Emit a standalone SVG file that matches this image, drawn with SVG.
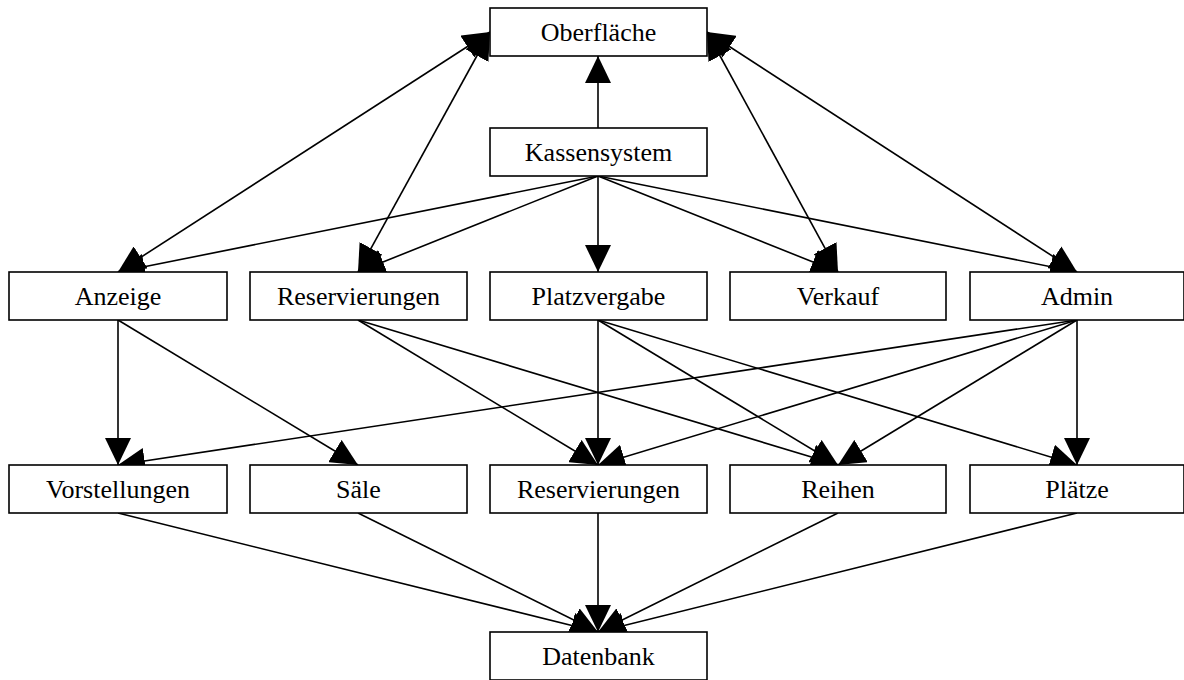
<svg xmlns="http://www.w3.org/2000/svg" width="1184" height="680" viewBox="0 0 1184 680">
<style>
.box{fill:#fff;stroke:#000;stroke-width:1.6}
.lbl{font-family:"Liberation Serif","Times New Roman",serif;font-size:26px;fill:#000;text-anchor:middle}
.e{stroke:#000;stroke-width:1.6;fill:none;marker-end:url(#ah)}
.b{marker-start:url(#ah)}
</style>
<defs>
<marker id="ah" markerUnits="userSpaceOnUse" viewBox="0 0 27 26" refX="27" refY="13" markerWidth="27" markerHeight="26" orient="auto-start-reverse">
<path d="M0,0 L27,13 L0,26 z" fill="#000"/>
</marker>
</defs>
<rect width="1184" height="680" fill="#fff"/>
<g id="connectors">
<line class="e" x1="598" y1="128" x2="598" y2="56"/>
<line class="e b" x1="490" y1="32" x2="118" y2="272"/>
<line class="e b" x1="490" y1="32" x2="358" y2="272"/>
<line class="e b" x1="707" y1="32" x2="838" y2="272"/>
<line class="e b" x1="707" y1="32" x2="1077" y2="272"/>
<line class="e" x1="598" y1="176" x2="118" y2="272"/>
<line class="e" x1="598" y1="176" x2="358" y2="272"/>
<line class="e" x1="598" y1="176" x2="598" y2="272"/>
<line class="e" x1="598" y1="176" x2="838" y2="272"/>
<line class="e" x1="598" y1="176" x2="1077" y2="272"/>
<line class="e" x1="118" y1="320" x2="118" y2="465"/>
<line class="e" x1="118" y1="320" x2="358" y2="465"/>
<line class="e" x1="358" y1="320" x2="598" y2="465"/>
<line class="e" x1="358" y1="320" x2="838" y2="465"/>
<line class="e" x1="598" y1="320" x2="598" y2="465"/>
<line class="e" x1="598" y1="320" x2="838" y2="465"/>
<line class="e" x1="598" y1="320" x2="1077" y2="465"/>
<line class="e" x1="1077" y1="320" x2="118" y2="465"/>
<line class="e" x1="1077" y1="320" x2="598" y2="465"/>
<line class="e" x1="1077" y1="320" x2="838" y2="465"/>
<line class="e" x1="1077" y1="320" x2="1077" y2="465"/>
<line class="e" x1="118" y1="513" x2="598" y2="632"/>
<line class="e" x1="358" y1="513" x2="598" y2="632"/>
<line class="e" x1="598" y1="513" x2="598" y2="632"/>
<line class="e" x1="838" y1="513" x2="598" y2="632"/>
<line class="e" x1="1077" y1="513" x2="598" y2="632"/>
</g>
<g id="oberflaeche"><rect class="box" x="490" y="8" width="217" height="48"/><text class="lbl" x="598.5" y="41">Oberfläche</text></g>
<g id="kassensystem"><rect class="box" x="490" y="128" width="217" height="48"/><text class="lbl" x="598.5" y="161">Kassensystem</text></g>
<g id="anzeige"><rect class="box" x="9" y="272" width="218" height="48"/><text class="lbl" x="118" y="305">Anzeige</text></g>
<g id="reservierungen1"><rect class="box" x="250" y="272" width="217" height="48"/><text class="lbl" x="358.5" y="305">Reservierungen</text></g>
<g id="platzvergabe"><rect class="box" x="490" y="272" width="217" height="48"/><text class="lbl" x="598.5" y="305">Platzvergabe</text></g>
<g id="verkauf"><rect class="box" x="730" y="272" width="216" height="48"/><text class="lbl" x="838" y="305">Verkauf</text></g>
<g id="admin"><rect class="box" x="970" y="272" width="214" height="48"/><text class="lbl" x="1077" y="305">Admin</text></g>
<g id="vorstellungen"><rect class="box" x="9" y="465" width="218" height="48"/><text class="lbl" x="118" y="498">Vorstellungen</text></g>
<g id="saele"><rect class="box" x="250" y="465" width="217" height="48"/><text class="lbl" x="358.5" y="498">Säle</text></g>
<g id="reservierungen2"><rect class="box" x="490" y="465" width="217" height="48"/><text class="lbl" x="598.5" y="498">Reservierungen</text></g>
<g id="reihen"><rect class="box" x="730" y="465" width="216" height="48"/><text class="lbl" x="838" y="498">Reihen</text></g>
<g id="plaetze"><rect class="box" x="970" y="465" width="214" height="48"/><text class="lbl" x="1077" y="498">Plätze</text></g>
<g id="datenbank"><rect class="box" x="490" y="632" width="217" height="48"/><text class="lbl" x="598.5" y="665">Datenbank</text></g>
</svg>
